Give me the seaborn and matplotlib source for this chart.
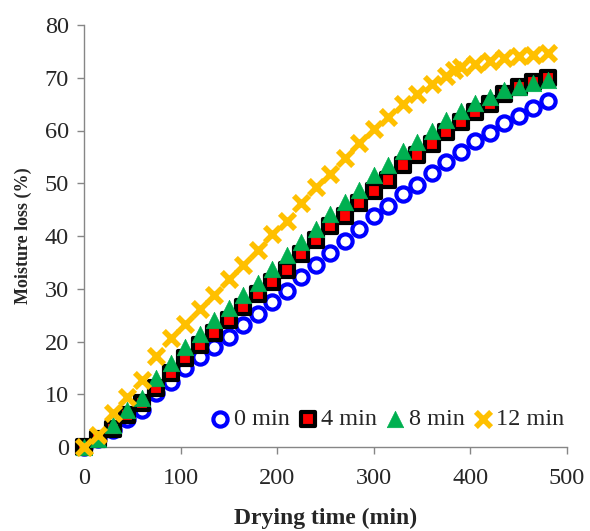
import numpy as np
import pandas as pd
import matplotlib
matplotlib.use("Agg")
import matplotlib.pyplot as plt
import seaborn as sns

time = [0, 15, 30, 45, 60, 75, 90, 105, 120, 135, 150, 165, 180, 195, 210, 225,
        240, 255, 270, 285, 300, 315, 330, 345, 360, 375, 390, 405, 420, 435, 450, 465, 480]

loss_0 = [0, 1.5, 3.2, 5.4, 7.1, 10.2, 12.4, 14.9, 17.1, 19.0, 20.9, 23.1, 25.3, 27.5, 29.5,
          32.2, 34.5, 36.8, 39.1, 41.4, 43.8, 45.6, 47.9, 49.7, 52.0, 54.0, 55.9, 58.0, 59.6,
          61.4, 62.7, 64.2, 65.5]
loss_4 = [0, 1.5, 3.5, 6.1, 8.3, 11.1, 14.1, 16.8, 19.3, 21.7, 24.1, 26.6, 29.0, 31.3, 33.6,
          36.6, 39.2, 41.9, 43.8, 46.2, 48.5, 50.6, 53.4, 55.3, 57.5, 59.7, 61.6, 63.5, 65.1,
          67.0, 68.2, 69.2, 70.0]
loss_8 = [0, 1.5, 4.2, 7.0, 9.2, 13.0, 16.0, 19.0, 21.5, 24.1, 26.4, 28.8, 31.0, 33.8, 36.4,
          38.9, 41.4, 44.2, 46.4, 48.8, 51.5, 53.4, 56.2, 57.8, 59.9, 61.9, 63.7, 65.2, 66.3,
          67.6, 68.2, 69.0, 69.6]

time_12 = [0, 15, 30, 45, 60, 75, 90, 105, 120, 135, 150, 165, 180, 195, 210, 225, 240, 255,
           270, 285, 300, 315, 330, 345, 360, 375, 383, 390, 405, 420, 435, 450, 465, 480]
loss_12 = [0, 2.3, 6.4, 9.5, 12.7, 17.2, 20.6, 23.4, 26.2, 28.9, 31.8, 34.5, 37.4, 40.4, 42.8,
           46.2, 49.2, 51.8, 54.8, 57.6, 60.3, 62.6, 65.0, 67.0, 68.8, 70.3, 71.4, 72.0, 72.6,
           73.2, 73.7, 74.1, 74.3, 74.6]

series_labels = ["0 min", "4 min", "8 min", "12 min"]
x_ticks = [0, 100, 200, 300, 400, 500]
y_ticks = [0, 10, 20, 30, 40, 50, 60, 70, 80]

sns.set_style("white")
plt.rcParams['font.family'] = ['Liberation Serif', 'DejaVu Serif']

fig = plt.figure(figsize=(5.9, 5.31), dpi=100)
ax = fig.add_axes([84/590, 84/531, 483/590, 422/531])

kw = dict(ax=ax, clip_on=False)
sns.scatterplot(x=time, y=loss_0, marker='o', s=105, facecolor='white',
                edgecolor='#0000FF', linewidth=3.0, label=series_labels[0], zorder=3, **kw)
sns.scatterplot(x=time, y=loss_4, marker='s', s=100, facecolor='#FF0000',
                edgecolor='black', linewidth=3.0, label=series_labels[1], zorder=4, **kw)
sns.scatterplot(x=time, y=loss_8, marker='^', s=140, color='#00B050',
                edgecolor='#00B050', linewidth=0.5, label=series_labels[2], zorder=5, **kw)
sns.scatterplot(x=time_12, y=loss_12, marker='x', s=120, color='#FFC000',
                linewidth=4.0, label=series_labels[3], zorder=6, **kw)

ax.set_xlim(0, 500)
ax.set_ylim(0, 80)
ax.set_xticks(x_ticks)
ax.set_yticks(y_ticks)
ax.tick_params(axis='both', labelsize=17.5, color='#868686', length=5, width=1,
               direction='out', bottom=True, left=True)
ax.tick_params(axis='x', pad=10)
ax.tick_params(axis='y', pad=6)
for s in ['top', 'right']:
    ax.spines[s].set_visible(False)
for s in ['left', 'bottom']:
    ax.spines[s].set_color('#868686')
    ax.spines[s].set_linewidth(1)
ax.grid(False)

ax.set_xlabel("Drying time (min)", fontsize=17, fontweight='bold', labelpad=14)
ax.set_ylabel("Moisture loss (%)", fontsize=13, fontweight='bold', labelpad=9)

ax.legend(loc='lower right', bbox_to_anchor=(1.03, 0.0), ncol=4, frameon=False,
          fontsize=17.5, handletextpad=0.0, columnspacing=0.2, handlelength=1.1,
          borderaxespad=0.3)

fig.savefig("out.png", dpi=100)
